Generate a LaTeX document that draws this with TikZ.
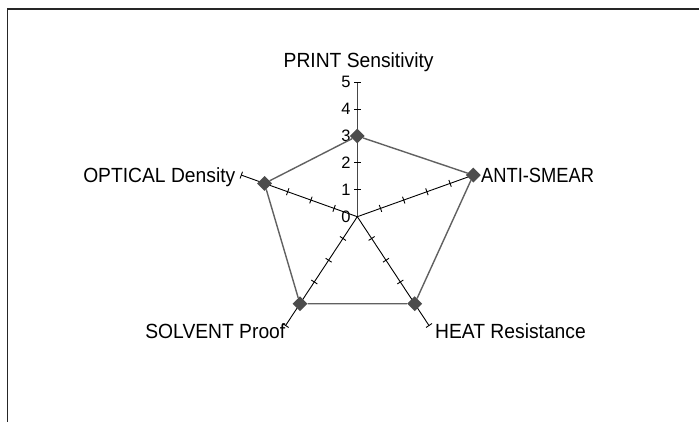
\documentclass[tikz,border=0pt]{standalone}
\usepackage{fontspec}
\setmainfont{Liberation Sans}
\usetikzlibrary{calc,shapes.geometric}
\begin{document}
\begin{tikzpicture}[x=1pt,y=-1pt,
  axisline/.style={black, line width=0.9pt},
  valaxis/.style={draw=black!72, line width=1.1pt},
  tickmark/.style={black, line width=0.9pt},
  series/.style={draw=black!62, line width=1.4pt},
  datamark/.style={diamond, fill=black!70, draw=none, minimum width=15pt, minimum height=15pt, inner sep=0pt},
  catlabel/.style={font=\fontsize{20.5}{22}\selectfont, inner sep=0pt, xscale=0.94},
  numlabel/.style={font=\fontsize{16.5}{18}\selectfont, inner sep=0pt, anchor=east},
  frameline/.style={line width=1.3pt, black!85}]
\useasboundingbox (0,0) rectangle (699,422);
\fill[white] (0,0) rectangle (699,422);
\draw[frameline] (7.5,422) -- (7.5,9) -- (699,9);
% centre and axis ends
\coordinate (O) at (357.3,216.7);
\coordinate (E1) at (357.3,82.2);
\coordinate (E2) at (473.3,175.1);
\coordinate (E3) at (429.0,325.5);
\coordinate (E4) at (285.6,325.5);
\coordinate (E5) at (241.3,175.1);
% axes
\draw[valaxis] (O) -- (E1);
\foreach \e in {E2,E3,E4,E5} \draw[axisline] (O) -- (\e);
% ticks
\foreach \e in {E1,E2,E3,E4,E5}{
  \foreach \v in {1,...,5}{
    \path ($(O)!\v/5!(\e)$) coordinate (t);
    \draw[tickmark] ($(t)!3.6pt!90:(O)$) -- ($(t)!3.6pt!-90:(O)$);
  }
}
% value labels
\foreach \v in {0,...,5} \node[numlabel] (n\v) at (350.8,{216.7-26.9*\v}) {\v};
% category labels
\node[catlabel, anchor=base] (lp) at (358.6,67.7) {PRINT Sensitivity};
\node[catlabel, anchor=base west, xscale=0.95] (la) at (481,182.3) {ANTI-SMEAR};
\node[catlabel, anchor=base west] (lh) at (435,338.3) {HEAT Resistance};
\node[catlabel, anchor=base east] (ls) at (285.5,338.3) {SOLVENT Proof};
\node[catlabel, anchor=base east] (lo) at (235.5,182.7) {OPTICAL Density};
% data markers
\node[datamark] (m1) at ($(O)!3/5!(E1)$) {};
\node[datamark] (m2) at ($(O)!5/5!(E2)$) {};
\node[datamark] (m3) at ($(O)!4/5!(E3)$) {};
\node[datamark] (m4) at ($(O)!4/5!(E4)$) {};
\node[datamark] (m5) at ($(O)!4/5!(E5)$) {};
\draw[series] (m1) -- (m2) -- (m3) -- (m4) -- (m5) -- (m1);
\end{tikzpicture}
\end{document}
